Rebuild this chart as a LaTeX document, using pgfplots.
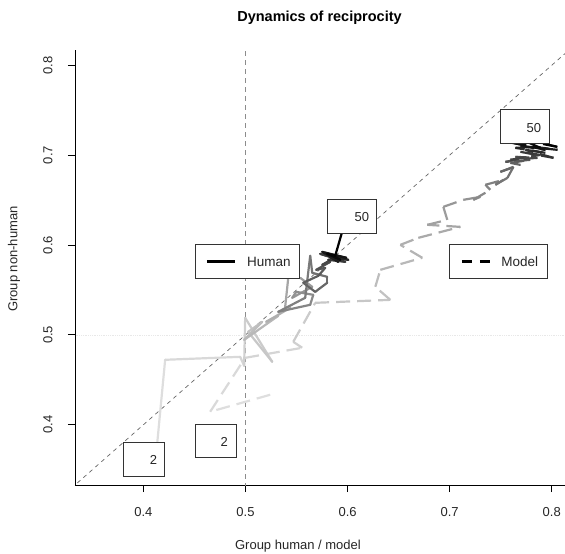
\documentclass[border=0pt]{standalone}
\usepackage{pgfplots}
\usepackage{pgfplotstable}
\pgfplotsset{compat=1.18}
\usepackage{fontspec}
\setmainfont{Liberation Sans}

\pgfplotstableread{
x y r
0.4134 0.3778 2
0.4213 0.4723 3
0.4948 0.4756 4
0.4987 0.4656 5
0.4997 0.5190 6
0.5262 0.4701 7
0.5026 0.5034 8
0.5164 0.5146 9
0.4987 0.4945 10
0.5321 0.5212 11
0.5203 0.5146 12
0.5438 0.5301 13
0.5389 0.5313 14
0.5419 0.5635 15
0.5536 0.5635 16
0.5654 0.5535 17
0.5458 0.5413 18
0.5497 0.5479 19
0.5664 0.5446 20
0.5634 0.5335 21
0.5321 0.5257 22
0.5585 0.5413 23
0.5634 0.5880 24
0.5654 0.5691 25
0.5801 0.5646 26
0.5801 0.5580 27
0.5683 0.5479 28
0.5566 0.5580 29
0.5713 0.5657 30
0.5781 0.5746 31
0.5693 0.5724 32
0.5830 0.5813 33
0.5752 0.5780 34
0.5870 0.5858 35
0.5732 0.5902 36
0.5977 0.5813 37
0.5811 0.5835 38
0.5928 0.5869 39
0.5781 0.5913 40
0.6007 0.5835 41
0.5830 0.5869 42
0.5909 0.5813 43
0.5752 0.5924 44
0.5987 0.5858 45
0.5860 0.5891 46
0.5928 0.5835 47
0.5801 0.5902 48
0.5879 0.5880 49
0.5958 0.6191 50
}\human

\pgfplotstableread{
x y r
0.5242 0.4334 2
0.4654 0.4145 3
0.4997 0.4745 4
0.5556 0.4857 5
0.5468 0.4923 6
0.5683 0.5357 7
0.6419 0.5390 8
0.6272 0.5535 9
0.6321 0.5724 10
0.6732 0.5858 11
0.6517 0.6002 12
0.6693 0.6080 13
0.7105 0.6202 14
0.6781 0.6225 15
0.6977 0.6280 16
0.6938 0.6425 17
0.7134 0.6503 18
0.7301 0.6536 19
0.7232 0.6503 20
0.7399 0.6614 21
0.7350 0.6670 22
0.7526 0.6725 23
0.7448 0.6670 24
0.7566 0.6747 25
0.7625 0.6870 26
0.7497 0.6814 27
0.7693 0.6892 28
0.7595 0.6914 29
0.7791 0.6948 30
0.7546 0.6925 31
0.7742 0.6970 32
0.7644 0.6981 33
0.7860 0.6970 34
0.7595 0.6948 35
0.7889 0.7003 36
0.7693 0.7037 37
0.8017 0.6970 38
0.7742 0.7059 39
0.7938 0.7026 40
0.7644 0.7081 41
0.7840 0.7092 42
0.8056 0.7059 43
0.7693 0.7103 44
0.7938 0.7059 45
0.7615 0.7137 46
0.7889 0.7081 47
0.7713 0.7170 48
0.8056 0.7092 49
0.7644 0.7204 50
}\model

\begin{document}
\begin{tikzpicture}
\useasboundingbox (-75pt,-69pt) rectangle (490pt,485pt);
\begin{axis}[
  scale only axis,
  width=490pt, height=435pt,
  xmin=0.333, xmax=0.813, ymin=0.333, ymax=0.817,
  axis x line=bottom, axis y line=left,
  axis line style={-, black, line width=0.9pt},
  tick style={black, line width=0.9pt},
  tick align=outside,
  major tick length=7pt,
  xtick={0.4,0.5,0.6,0.7,0.8},
  ytick={0.4,0.5,0.6,0.7,0.8},
  /pgf/number format/assume math mode=true,
  xticklabel={\pgfmathprintnumber[fixed,fixed zerofill,precision=1]{\tick}},
  yticklabel={\pgfmathprintnumber[fixed,fixed zerofill,precision=1]{\tick}},
  tick label style={font=\fontsize{13}{15}\selectfont, text=black!85},
  xticklabel style={anchor=center, yshift=-20pt},
  yticklabel style={rotate=90, anchor=center, yshift=20pt},
  xlabel={Group human / model},
  ylabel={Group non-human},
  label style={font=\fontsize{13}{15}\selectfont, text=black!85},
  xlabel style={at={(axis description cs:0.455,-0.1402)}, anchor=center},
  ylabel style={at={(axis description cs:-0.1245,0.5195)}, anchor=center, rotate=0},
  title={Dynamics of reciprocity},
  every axis title shift=0pt,
  title style={at={(axis description cs:0.499,1.0736)}, anchor=center, font=\bfseries\fontsize{14.5}{17}\selectfont},
  colormap={rgrey}{gray(0cm)=(0.88); gray(1cm)=(0)},
  point meta min=2, point meta max=50,
  clip=true,
]
% reference lines
\addplot[black!9, densely dotted, line width=0.8pt, forget plot] coordinates {(0.3,0.5) (0.9,0.5)};
\addplot[black!45, dash pattern=on 5pt off 4pt, line width=0.9pt, forget plot] coordinates {(0.5,0.3) (0.5,0.9)};
\addplot[black!60, dash pattern=on 4pt off 4pt, line width=0.7pt, forget plot] coordinates {(0.3,0.3) (0.9,0.9)};
% trajectories
\addplot[mesh, point meta=\thisrow{r}, line width=2.2pt, dash pattern=on 14pt off 7pt, line cap=butt, forget plot] table[x=x,y=y] {\model};
\addplot[mesh, point meta=\thisrow{r}, line width=2.2pt, line join=round, line cap=round, forget plot] table[x=x,y=y] {\human};
% label boxes
\draw[fill=white, draw=black!80, line width=0.8pt] (axis cs:0.3802,0.3422) rectangle (axis cs:0.4204,0.3800);
\node[font=\fontsize{13}{15}\selectfont, text=black!85] at (axis cs:0.4098,0.3611) {2};
\draw[fill=white, draw=black!80, line width=0.8pt] (axis cs:0.4507,0.3633) rectangle (axis cs:0.4908,0.4000);
\node[font=\fontsize{13}{15}\selectfont, text=black!85] at (axis cs:0.4791,0.3814) {2};
\draw[fill=white, draw=black!80, line width=0.8pt] (axis cs:0.5801,0.6125) rectangle (axis cs:0.6281,0.6503);
\node[font=\fontsize{13}{15}\selectfont, text=black!85] at (axis cs:0.6141,0.6310) {50};
\draw[fill=white, draw=black!80, line width=0.8pt] (axis cs:0.7497,0.7126) rectangle (axis cs:0.7978,0.7504);
\node[font=\fontsize{13}{15}\selectfont, text=black!85] at (axis cs:0.7824,0.7307) {50};
% legends
\draw[fill=white, draw=black!80, line width=0.8pt] (axis cs:0.4508,0.5624) rectangle (axis cs:0.5527,0.6002);
\draw[black, line width=2.2pt] (axis cs:0.4622,0.5817) -- (axis cs:0.4900,0.5817);
\node[font=\fontsize{13.5}{15}\selectfont, text=black!85, anchor=west, inner sep=0pt] at (axis cs:0.5014,0.5813) {Human};
\draw[fill=white, draw=black!80, line width=0.8pt] (axis cs:0.6997,0.5624) rectangle (axis cs:0.7958,0.6002);
\draw[black, line width=2.2pt, dash pattern=on 10pt off 8pt] (axis cs:0.7121,0.5817) -- (axis cs:0.7398,0.5817);
\node[font=\fontsize{13.5}{15}\selectfont, text=black!85, anchor=west, inner sep=0pt] at (axis cs:0.7504,0.5813) {Model};
\end{axis}
\end{tikzpicture}
\end{document}
